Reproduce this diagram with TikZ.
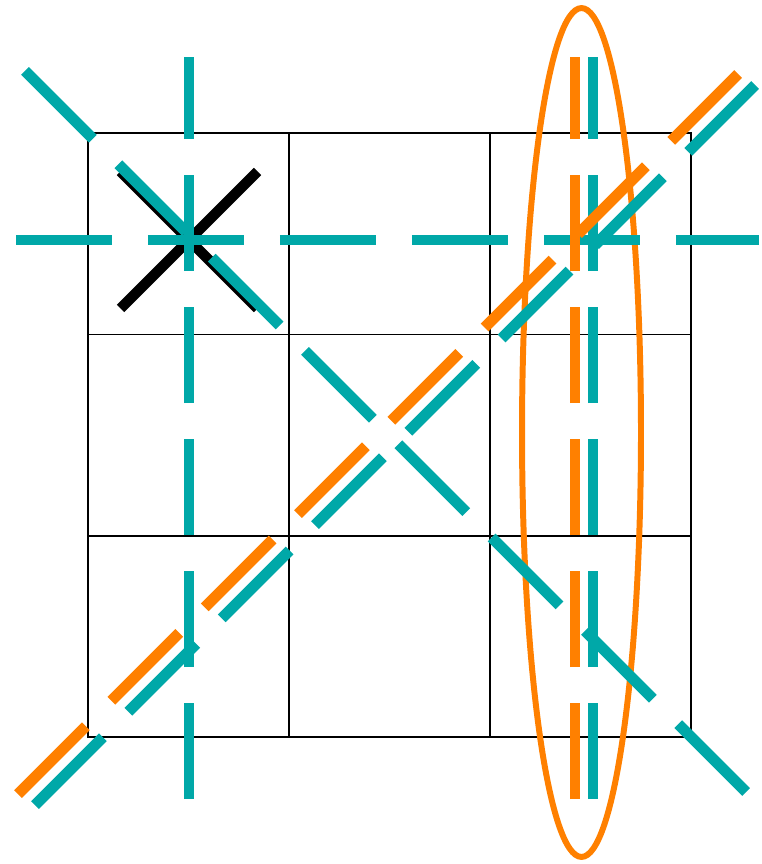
\documentclass[tikz,border=0pt]{standalone}
\usepackage{tikz}
\definecolor{tealline}{RGB}{0,168,168}
\definecolor{orangeline}{RGB}{255,128,0}
\begin{document}
\begin{tikzpicture}[
        x=0.02cm,
        y=-0.02cm,
        board line/.style={line width=1.13pt},
        solid cross/.style={line width=6pt,draw=black},
        dashed ray/.style={line width=6.24pt,dash pattern=on 1.92cm off 0.72cm},
        teal ray/.style={dashed ray,draw=tealline},
        orange ray/.style={dashed ray,draw=orangeline},
        group ring/.style={line width=3.4pt,draw=orangeline}
    ]
        \useasboundingbox (0,0) rectangle (761,864);

        % The three-by-three board.
        \draw[board line] (88,133) rectangle (691,737);
        \draw[board line] (289,133) -- (289,737);
        \draw[board line] (490,133) -- (490,737);
        \draw[board line] (88,334.5) -- (691,334.5);
        \draw[board line] (88,536) -- (691,536);

        % The solid cross in the corner cell.
        \coordinate (crossmid) at (189,240);
        \draw[solid cross] (120.5,171.5) -- (257.5,308.5);
        \draw[solid cross] (120.5,308.5) -- (257.5,171.5);

        % The ring round the right-hand column.
        \draw[group ring] (581.5,432.5) ellipse [x radius=1.19cm,y radius=8.49cm];

        % Teal rays through the board.
        \draw[teal ray] (189,799) -- (189,57);
        \draw[teal ray] (593,799) -- (593,57);
        \draw[teal ray] (16,240) -- (759,240);
        \draw[teal ray] (25,71) -- (752,798);
        \draw[teal ray] (35,805) -- (755,85);

        % The orange rays beside them.
        \draw[orange ray] (575,799) -- (575,57);
        \draw[orange ray] (18,794) -- (738,74);
    \end{tikzpicture}
\end{document}
